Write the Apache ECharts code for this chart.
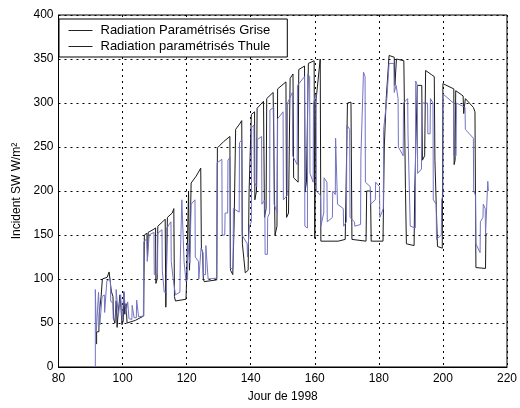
<!DOCTYPE html>
<html>
<head>
<meta charset="utf-8">
<script src="https://cdn.jsdelivr.net/npm/echarts@6/dist/echarts.min.js"></script>
<style>
html,body{margin:0;padding:0;background:#fff;}
#c{width:520px;height:408px;}
</style>
</head>
<body>
<div id="c"></div>
<script>
const seriesNames = ['Radiation Paramétrisés Grise', 'Radiation paramétrisés Thule'];
const xTicks = [80, 100, 120, 140, 160, 180, 200, 220];
const yTicks = [0, 50, 100, 150, 200, 250, 300, 350, 400];

const griseDay = [91.9,91.9,92.6,92.7,93.2,93.3,93.6,93.7,95.2,95.8,96.3,96.5,97.0,97.2,97.6,98.0,98.3,98.6,99.2,99.5,99.8,100.2,100.4,100.7,101.1,101.4,102.0,104.0,106.6,
106.8,107.6,107.8,108.0,109.5,110.3,110.4,110.8,111.0,112.5,113.3,113.5,113.8,114.0,115.5,116.0,116.2,116.5,119.8,120.0,120.4,120.6,120.9,121.3,121.4,123.0,124.4,124.6,125.0,125.2,125.5,129.4,
129.6,131.5,133.5,133.7,134.4,134.8,135.3,136.5,137.2,137.4,138.3,139.2,139.5,140.2,141.2,141.3,141.8,142.0,144.0,144.3,144.8,145.0,147.0,147.3,147.6,148.2,148.4,151.0,151.2,151.8,152.3,153.2,153.4,154.8,155.0,156.8,157.0,157.4,158.0,159.8,160.0,160.3,161.7,
161.9,167.3,169.5,170.0,170.2,171.3,171.6,176.0,176.2,177.4,177.6,181.3,181.7,182.3,183.2,184.8,185.0,185.5,187.8,188.3,188.6,191.0,191.2,192.0,193.4,193.6,194.3,194.6,196.5,197.3,197.5,198.3,199.8,
200.0,203.4,203.5,203.8,204.0,206.3,206.5,207.0,209.5,210.0,210.3,213.3,213.4,213.8];
const griseVal = [26,40,40,60,62,80,78,100,102,108,108,86,80,55,50,75,45,60,82,68,48,52,85,60,72,50,50,53,58,
150,152,125,153,156,158,95,100,160,165,168,68,70,170,175,180,80,75,77,100,100,200,110,110,209,217,226,135,130,100,97,99,
249,256,262,110,105,160,270,276,280,140,107,110,200,287,290,190,200,294,302,170,180,305,312,225,150,160,316,324,170,175,328,333,215,210,338,342,200,210,345,348,146,300,350,
143,143,145,145,300,301,145,143,200,200,143,143,250,305,354,352,320,350,348,203,140,138,200,320,320,235,240,337,332,330,235,137,135,
322,316,230,235,314,308,288,305,295,290,113,112,150,152];

const thuleDay = [91.5,91.5,91.8,91.8,92.4,92.5,92.8,92.9,93.5,93.6,94.3,94.4,95.0,95.1,96.2,96.3,97.0,97.1,97.9,98.0,98.6,98.7,99.3,99.4,99.8,99.9,100.3,100.4,100.9,101.0,101.5,101.6,101.9,102.0,102.9,103.0,103.5,103.6,104.3,104.4,104.9,105.0,106.5,
106.6,107.6,107.7,108.2,108.3,109.8,109.9,110.9,111.0,112.3,112.4,113.0,113.7,113.8,115.1,115.2,115.8,116.5,117.9,118.0,118.4,118.5,119.1,119.2,119.8,120.3,120.4,120.9,121.0,121.3,121.4,122.6,122.7,123.7,123.8,124.4,124.5,125.1,125.2,125.9,126.0,126.6,126.7,129.4,
129.5,131.0,131.1,131.9,132.0,132.8,132.9,133.5,133.6,134.5,134.6,136.4,136.5,137.2,137.3,138.9,139.0,139.5,139.6,140.2,140.3,141.0,141.1,141.9,142.0,143.4,143.5,144.4,144.5,145.2,145.3,145.9,146.0,147.2,147.3,148.3,148.4,150.1,150.2,151.4,151.5,153.0,153.1,154.5,154.6,156.8,156.9,157.7,157.8,158.4,158.5,159.5,159.6,
160.4,160.5,161.8,161.9,162.8,162.9,163.8,163.9,165.5,165.6,166.4,166.5,167.0,167.1,168.9,169.0,169.9,170.0,170.9,171.0,172.4,172.5,174.3,174.4,175.2,175.7,175.8,177.3,177.4,178.9,179.0,180.2,180.3,181.4,181.5,182.5,183.2,184.7,184.8,185.4,186.0,186.1,187.6,187.7,189.0,189.1,189.7,189.8,191.4,191.5,192.0,192.1,193.3,193.4,195.2,195.3,196.0,196.1,196.9,197.0,197.9,198.0,199.5,199.6,200.0,
200.1,203.3,203.4,204.1,204.2,206.9,207.0,209.5,209.6,210.2,210.3,211.6,211.7,212.5,212.6,213.2,213.3,213.9,214.0,214.2];
const thuleVal = [0,88,88,40,38,85,85,48,50,80,82,62,60,98,100,75,72,55,52,88,88,58,60,82,80,52,52,86,86,60,60,74,74,55,54,70,70,56,56,76,76,57,58,
142,146,120,120,150,153,105,105,152,156,110,85,85,158,165,120,100,82,85,120,120,190,188,120,97,100,140,140,118,118,185,190,125,120,100,100,135,130,105,105,138,138,100,101,
232,236,150,150,175,175,235,238,112,112,180,176,255,258,150,140,125,125,160,165,272,275,210,205,258,262,185,190,128,128,170,175,292,295,185,175,282,290,190,195,300,312,240,230,320,330,160,158,333,330,220,210,300,
310,200,195,160,175,215,210,165,170,200,196,260,258,185,180,160,165,275,270,170,165,160,162,240,335,330,210,205,185,190,210,205,170,180,270,305,345,345,312,320,305,250,240,300,305,265,265,160,158,325,320,220,225,300,300,265,265,305,300,190,185,145,150,190,195,
310,300,240,240,300,295,270,260,200,195,140,130,165,170,185,180,150,150,211,200];

function pairs(d, v) { return d.map((x, i) => [x, v[i]]); }

const FONT = '"Liberation Sans", Arial, sans-serif';
const chart = echarts.init(document.getElementById('c'), null, {renderer: 'canvas'});
chart.setOption({
  animation: false,
  backgroundColor: '#fff',
  grid: {left: 58.5, right: 10, top: 15, bottom: 36, show: true, borderColor: '#000', borderWidth: 1, backgroundColor: 'transparent'},
  legend: {
    orient: 'vertical', left: 59, top: 19,
    padding: [5, 17, 4, 9], itemWidth: 24, itemHeight: 14, itemGap: 3,
    backgroundColor: '#fff', borderColor: '#000', borderWidth: 1,
    selectedMode: false,
    itemStyle: {opacity: 0},
    lineStyle: {color: '#222', width: 1},
    textStyle: {fontFamily: FONT, fontSize: 13, color: '#000', padding: [0, 0, 0, 3]},
    data: seriesNames
  },
  xAxis: {
    type: 'value', min: xTicks[0], max: xTicks[xTicks.length - 1], interval: 20,
    name: 'Jour de 1998', nameLocation: 'middle', nameGap: 24,
    nameTextStyle: {fontFamily: FONT, fontSize: 12, color: '#000'},
    axisLine: {lineStyle: {color: '#000', width: 1}},
    axisTick: {show: false},
    axisLabel: {fontFamily: FONT, fontSize: 12, color: '#000', margin: 6},
    splitLine: {show: true, lineStyle: {color: '#000', type: [2, 4], width: 1}}
  },
  yAxis: {
    type: 'value', min: yTicks[0], max: yTicks[yTicks.length - 1], interval: 50,
    name: 'Incident SW W/m²', nameLocation: 'middle', nameGap: 36,
    nameTextStyle: {fontFamily: FONT, fontSize: 12, color: '#000'},
    axisLine: {show: true, lineStyle: {color: '#000', width: 1}},
    axisTick: {show: false},
    axisLabel: {fontFamily: FONT, fontSize: 12, color: '#000', margin: 5},
    splitLine: {show: true, lineStyle: {color: '#000', type: [2, 4], width: 1}}
  },
  series: [
    {name: seriesNames[0], type: 'line', data: pairs(griseDay, griseVal), symbol: 'none',
     lineStyle: {color: '#1a1a1a', width: 1}, itemStyle: {color: '#1a1a1a'}, z: 2},
    {name: seriesNames[1], type: 'line', data: pairs(thuleDay, thuleVal), symbol: 'none',
     lineStyle: {color: '#7373c4', width: 1}, itemStyle: {color: '#7373c4'}, z: 3}
  ]
});
</script>
</body>
</html>
